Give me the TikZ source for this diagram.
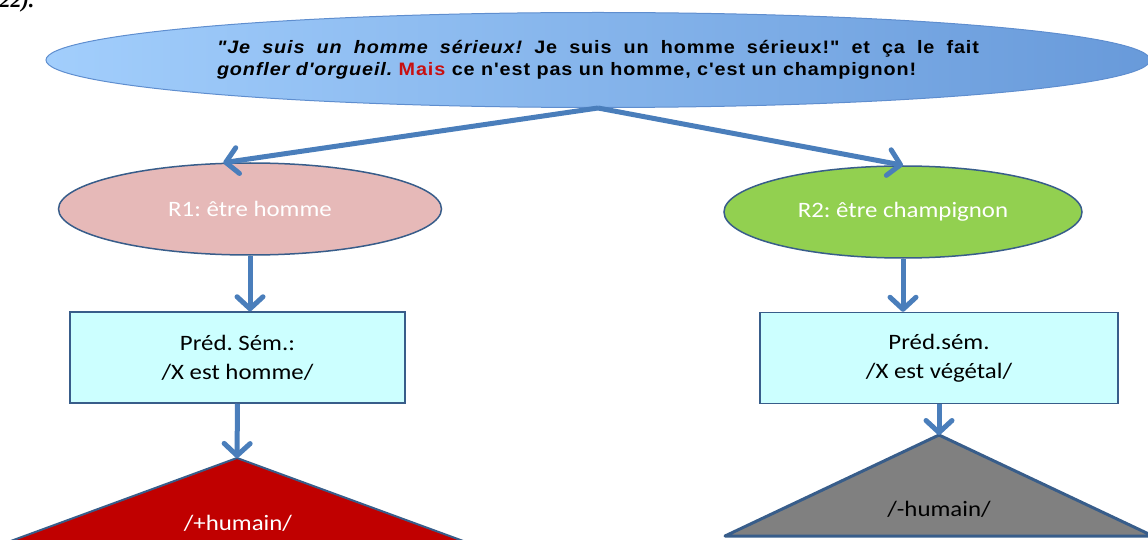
\documentclass[tikz,border=0pt]{standalone}
\usepackage{fontspec}
\setmainfont{Carlito}[FakeStretch=1.13]
\newfontfamily\quotefont{Liberation Sans}[FakeStretch=1.1,LetterSpace=5]
\newfontfamily\pagefont{Liberation Serif}
\usepackage{xcolor}
\usepackage{tikz}
\usetikzlibrary{arrows.meta,shapes.geometric,positioning,calc}
\definecolor{linkblue}{RGB}{74,126,187}
\definecolor{edgeblue}{RGB}{56,93,138}
\definecolor{quoteleft}{RGB}{162,206,252}
\definecolor{quoteright}{RGB}{104,154,218}
\definecolor{quoteedge}{RGB}{95,142,207}
\definecolor{humanpink}{RGB}{230,185,184}
\definecolor{plantgreen}{RGB}{146,208,80}
\definecolor{predcyan}{RGB}{204,255,255}
\definecolor{humanred}{RGB}{192,0,0}
\definecolor{plantgray}{RGB}{128,128,128}
\definecolor{maisred}{RGB}{200,16,16}
\frenchspacing

\begin{document}
\begin{tikzpicture}[x=1pt,y=-1pt,
	myarrow/.style={-{Straight Barb[length=12pt,width=26pt,round]},line width=5pt,draw=linkblue},
	reading/.style={ellipse,draw=edgeblue,line width=1.5pt,minimum height=92pt,text=white,font=\fontsize{22}{26}\selectfont},
	predbox/.style={rectangle,draw=edgeblue,line width=1.5pt,fill=predcyan,minimum height=91pt,align=center,font=\fontsize{22}{29}\selectfont},
	feature/.style={font=\fontsize{22}{26}\selectfont}]
	\useasboundingbox (0,0) rectangle (1148,540);
	\draw
		(-4,8) node[anchor=base west,font=\pagefont\bfseries\itshape\fontsize{22}{26}\selectfont](ref){22).}
		(598,60) node[ellipse,minimum width=1104pt,minimum height=95pt,inner sep=0pt,
			left color=quoteleft,right color=quoteright,draw=quoteedge,line width=1pt,
			text width=762pt,align=justify,font=\quotefont\bfseries\fontsize{18}{22}\selectfont](quote)
			{{\itshape "Je suis un homme sérieux!} Je suis un homme sérieux!" et ça le fait\linebreak
			{\itshape gonfler d'orgueil.} \textcolor{maisred}{Mais} ce n'est pas un homme, c'est un champignon!}
		(250,209) node[reading,fill=humanpink,minimum width=383pt](r1){R1: être homme}
		(903,212) node[reading,fill=plantgreen,minimum width=358pt](r2){R2: être champignon}
		(237.5,357.5) node[predbox,minimum width=335pt](pred1){Préd. Sém.:\\/X est homme/}
		(939,358) node[predbox,minimum width=358pt](pred2){Préd.sém.\\/X est végétal/};
	% triangles
	\coordinate (top1) at (237,458);
	\coordinate (top2) at (939,435);
	\filldraw[fill=humanred,draw=edgeblue,line width=2pt,line join=round]
		(top1) -- (515,560) -- (-41,560) -- cycle;
	\filldraw[fill=plantgray,draw=edgeblue,line width=3pt,line join=round]
		(top2) -- (1153,536) -- (725,536) -- cycle;
	\draw
		(238,523) node[feature,text=white](plus){/+humain/}
		(939,509) node[feature,text=black](minus){/-humain/};
	\draw[myarrow](quote.south) -- (r1.120);
	\draw[myarrow](quote.south) -- (r2.north);
	\draw[myarrow](r1.south) -- (r1.south |- pred1.north);
	\draw[myarrow](r2.south) -- (r2.south |- pred2.north);
	\draw[myarrow](pred1.south) -- (top1);
	\draw[myarrow](pred2.south) -- (top2);
\end{tikzpicture}
\end{document}
